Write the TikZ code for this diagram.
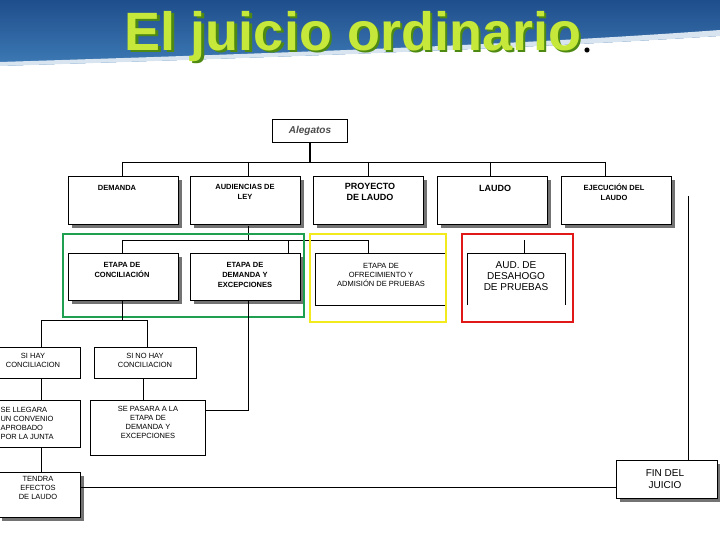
\documentclass[tikz,border=0pt]{standalone}
\usepackage{fontspec}
\setmainfont{Liberation Sans}
\usetikzlibrary{shadows}
\definecolor{bannerA}{HTML}{1F4E8C}
\definecolor{bannerB}{HTML}{3F7DB8}
\definecolor{titlefill}{HTML}{C6E83A}
\definecolor{titleline}{HTML}{4E8A12}
\definecolor{gbox}{HTML}{1FA050}
\definecolor{ybox}{HTML}{F2EA1C}
\definecolor{rbox}{HTML}{E01818}
\begin{document}
\begin{tikzpicture}[x=1pt,y=-1pt,
  box/.style={draw=black,fill=white,line width=0.6pt,align=center,inner sep=1pt},
  shbox/.style={box,drop shadow={shadow xshift=4pt,shadow yshift=-4pt,fill=black!55,opacity=1}},
  txt/.style={font=\fontsize{7.5}{9}\selectfont},
  ttl/.style={font=\bfseries\fontsize{54}{54}\selectfont},
  ln/.style={line width=0.6pt},
  frame/.style={line width=2.6pt}]
\useasboundingbox (0,0) rectangle (720,540);
\clip (0,0) rectangle (720,540);
% banner
\shade[top color=bannerA,bottom color=bannerB] (0,0) rectangle (720,70);
\fill[white] (0,66) .. controls (250,58) and (500,50) .. (720,36) -- (720,80) -- (0,80) -- cycle;
\fill[white!80!bannerB] (0,62) .. controls (250,54) and (500,46) .. (720,30) -- (720,36) .. controls (500,50) and (250,58) .. (0,66) -- cycle;
\node[ttl,text=titleline] at (355.5,38.5) {El juicio ordinario};
\node[ttl,text=titlefill] (title) at (353,37) {El juicio ordinario};
\fill[black] (587,50) circle (3pt);
\draw[white,line width=0.6pt] (587,50) circle (3pt);
% Alegatos
\node[box,minimum width=75pt,minimum height=23pt,font=\bfseries\itshape\fontsize{10}{10}\selectfont,text=black!70] (ale) at (310,131) {Alegatos};
\draw[line width=2pt] (ale.south) -- (310,162);
\draw[ln] (122,162) -- (605,162);
\foreach \x in {122,248,368,490,605} \draw[ln] (\x,162) -- (\x,176);
% top row
\node[shbox,minimum width=110pt,minimum height=48pt,anchor=north west] (dem) at (68,176) {};
\node[font=\bfseries\fontsize{7.5}{10}\selectfont] at (117,188) {DEMANDA};
\node[shbox,minimum width=110pt,minimum height=48pt,anchor=north west] (aud) at (190,176) {};
\node[font=\bfseries\fontsize{7.5}{10}\selectfont,align=center] at (245,192) {AUDIENCIAS DE\\LEY};
\node[shbox,minimum width=110pt,minimum height=48pt,anchor=north west] (pro) at (313,176) {};
\node[font=\bfseries\fontsize{9}{11}\selectfont,align=center] at (370,192) {PROYECTO\\DE LAUDO};
\node[shbox,minimum width=110pt,minimum height=48pt,anchor=north west] (lau) at (437,176) {};
\node[font=\bfseries\fontsize{9}{11}\selectfont] at (495,188) {LAUDO};
\node[shbox,minimum width=110pt,minimum height=48pt,anchor=north west] (eje) at (561,176) {};
\node[font=\bfseries\fontsize{7.5}{10}\selectfont,align=center] at (614,192) {EJECUCIÓN DEL\\LAUDO};
% second level
\draw[ln] (248,226) -- (248,240);
\draw[ln] (122,240) -- (368,240);
\draw[ln] (122,240) -- (122,253);
\draw[ln] (288,240) -- (288,253);
\draw[ln] (368,240) -- (368,253);
\draw[ln] (524,240) -- (524,253);
\node[shbox,minimum width=110pt,minimum height=47pt,anchor=north west] (econ) at (68,253) {};
\node[font=\bfseries\fontsize{7.5}{10}\selectfont,align=center] at (122,270) {ETAPA DE\\CONCILIACIÓN};
\node[shbox,minimum width=110pt,minimum height=47pt,anchor=north west] (edem) at (190,253) {};
\node[font=\bfseries\fontsize{7.5}{10}\selectfont,align=center] at (245,275) {ETAPA DE\\DEMANDA Y\\EXCEPCIONES};
\node[box,minimum width=131pt,minimum height=52pt,anchor=north west,line width=1.2pt] (eof) at (315,253) {};
\node[txt,align=center] at (381,275) {ETAPA DE\\OFRECIMIENTO Y\\ADMISIÓN DE PRUEBAS};
\draw[ln] (467,305) -- (467,253) -- (565,253) -- (565,305);
\node[font=\fontsize{10}{11}\selectfont,align=center] at (516,276) {AUD. DE\\DESAHOGO\\DE PRUEBAS};
% colored frames
\draw[frame,gbox] (63,234) rectangle (304,317);
\draw[frame,ybox] (310,234) rectangle (446,322);
\draw[frame,rbox] (462,234) rectangle (573,322);
% right line
\draw[ln] (688,196) -- (688,460);
% lower
\draw[ln] (122,300) -- (122,320);
\draw[ln] (41,320) -- (147,320);
\draw[ln] (41,320) -- (41,347);
\draw[ln] (147,320) -- (147,347);
\node[box,minimum width=82pt,minimum height=31pt,anchor=north west] (si) at (-2,347) {};
\node[txt,align=center] at (33,360) {SI HAY\\CONCILIACION};
\node[box,minimum width=102pt,minimum height=31pt,anchor=north west] (sino) at (94,347) {};
\node[txt,align=center] at (145,360) {SI NO HAY\\CONCILIACION};
\draw[ln] (41,378) -- (41,400);
\draw[ln] (143,378) -- (143,400);
\node[box,minimum width=82pt,minimum height=47pt,anchor=north west] (lleg) at (-2,400) {};
\node[txt,align=left,anchor=west] at (-3,423) {SE LLEGARA\\UN CONVENIO\\APROBADO\\POR LA JUNTA};
\node[box,minimum width=115pt,minimum height=55pt,anchor=north west] (pasa) at (90,400) {};
\node[txt,align=center] at (148,422) {SE PASARA A LA\\ETAPA DE\\DEMANDA Y\\EXCEPCIONES};
\draw[ln] (248,300) -- (248,410) -- (pasa.east |- 0,410);
\draw[ln] (41,447) -- (41,472);
\node[shbox,minimum width=82pt,minimum height=45pt,anchor=north west] (ten) at (-2,472) {};
\node[txt,align=center] at (38,488) {TENDRA\\EFECTOS\\DE LAUDO};
\node[shbox,minimum width=101pt,minimum height=38pt,anchor=north west] (fin) at (616,460) {};
\node[font=\fontsize{10}{12}\selectfont,align=center] at (665,479) {FIN DEL\\JUICIO};
\draw[ln] (ten.east |- 0,487) -- (fin.west |- 0,487);
\end{tikzpicture}
\end{document}
